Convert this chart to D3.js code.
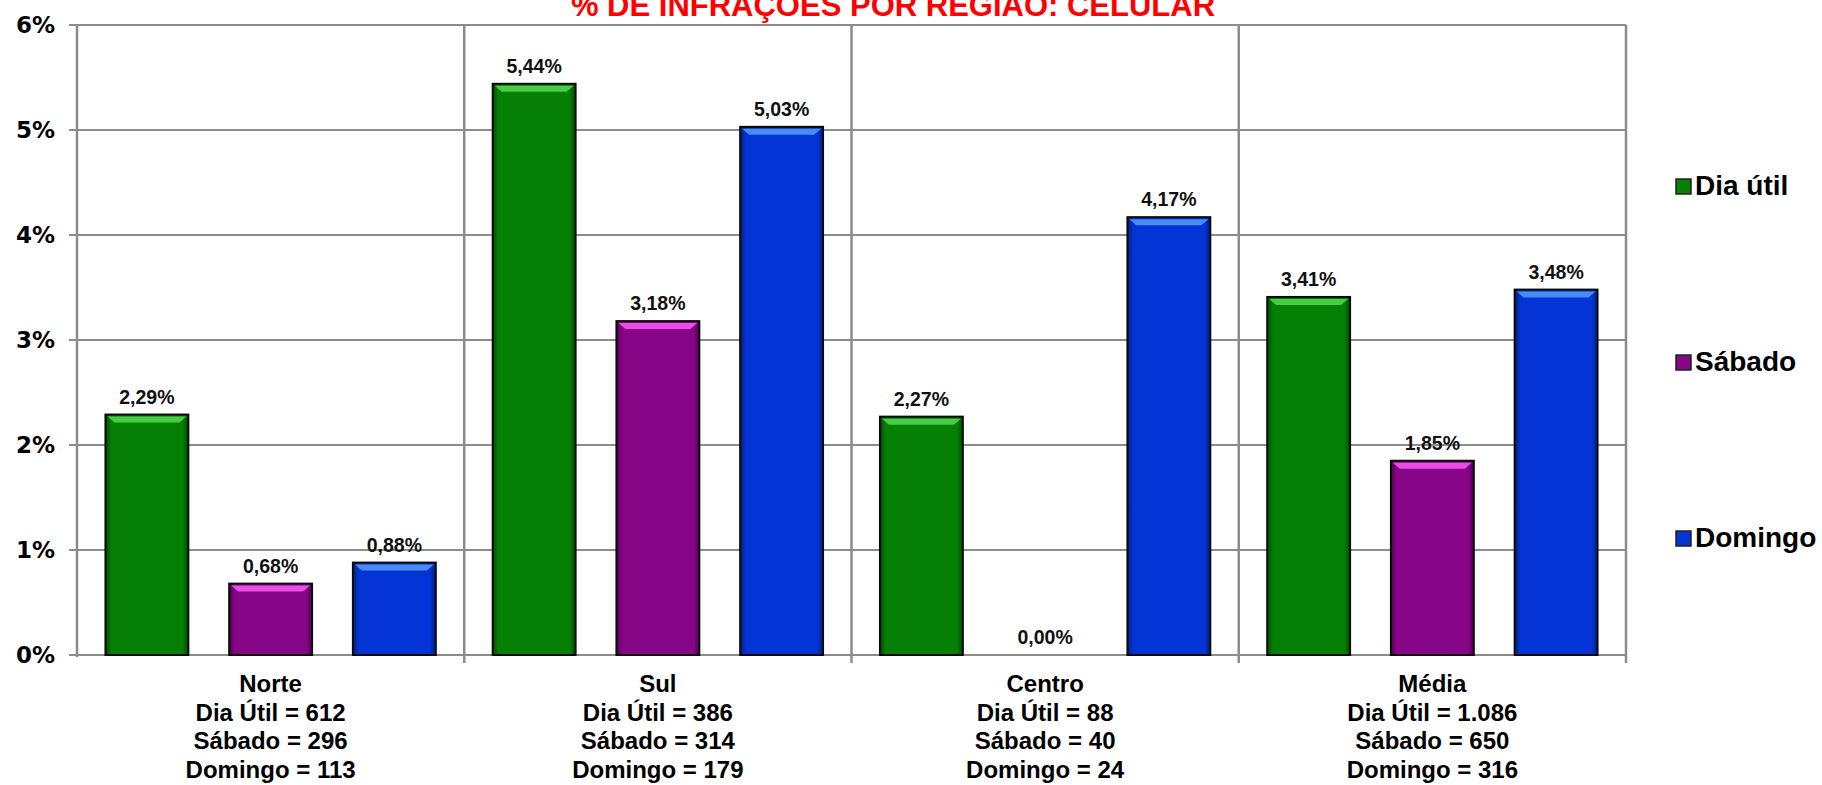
<!DOCTYPE html>
<html lang="pt">

<head>
    <meta charset="UTF-8">
    <script src="https://cdnjs.cloudflare.com/ajax/libs/d3/7.9.0/d3.min.js"></script>
    <title>% de infrações por região: celular</title>
    <style>
        body {
            margin: 0;
            background-color: white;
            font-family: "Liberation Sans", Arial, sans-serif;
        }

        svg {
            display: block;
        }

        .grid line {
            stroke: #8c8c8c;
            stroke-width: 2;
        }

        .y-axis text {
            font-family: "DejaVu Sans", Verdana, sans-serif;
            font-weight: bold;
            font-size: 23px;
            fill: #000;
        }

        .value-label {
            font-weight: bold;
            font-size: 19.5px;
            fill: #111;
        }

        .cat-label {
            font-weight: bold;
            font-size: 24px;
            fill: #000;
        }

        .legend text {
            font-weight: bold;
            font-size: 28px;
            fill: #000;
        }
    </style>
</head>

<body>
    <div id="chart"></div>

    <script>
        const width = 1822;
        const height = 785;
        const plot = { left: 77, right: 1626, top: 25, bottom: 655 };

        // data
        const regions = ["Norte", "Sul", "Centro", "Média"];
        const seriesNames = ["Dia útil", "Sábado", "Domingo"];
        const diaUtil = [2.29, 5.44, 2.27, 3.41];
        const sabado = [0.68, 3.18, 0.00, 1.85];
        const domingo = [0.88, 5.03, 4.17, 3.48];
        const countDiaUtil = ["612", "386", "88", "1.086"];
        const countSabado = ["296", "314", "40", "650"];
        const countDomingo = ["113", "179", "24", "316"];
        const yTicks = [0, 1, 2, 3, 4, 5, 6];

        const colors = {
            "Dia útil": { base: "#058005", light: "#46cc46", dark: "#024a02" },
            "Sábado": { base: "#870587", light: "#e64ee6", dark: "#4f024f" },
            "Domingo": { base: "#0534d6", light: "#4a8df2", dark: "#021d7a" }
        };

        const values = [diaUtil, sabado, domingo];
        const rows = [];
        regions.forEach((r, i) => {
            seriesNames.forEach((s, j) => {
                rows.push({ region: r, series: s, value: values[j][i] });
            });
        });

        const svg = d3.select("#chart").append("svg")
            .attr("width", width)
            .attr("height", height);

        // gradients for the bevelled look
        const defs = svg.append("defs");
        seriesNames.forEach((s, i) => {
            const g = defs.append("linearGradient")
                .attr("id", "grad" + i)
                .attr("x1", "0%").attr("x2", "100%")
                .attr("y1", "0%").attr("y2", "0%");
            g.append("stop").attr("offset", "0%").attr("stop-color", colors[s].dark);
            g.append("stop").attr("offset", "7%").attr("stop-color", colors[s].base);
            g.append("stop").attr("offset", "93%").attr("stop-color", colors[s].base);
            g.append("stop").attr("offset", "100%").attr("stop-color", colors[s].dark);
        });

        const x0 = d3.scaleBand()
            .domain(regions)
            .range([plot.left, plot.right]);

        const x1 = d3.scaleBand()
            .domain(seriesNames)
            .range([0, x0.bandwidth()])
            .paddingInner(0.33)
            .paddingOuter(0.23);

        const y = d3.scaleLinear()
            .domain([0, 6])
            .range([plot.bottom, plot.top]);

        // title (cut off at the top like the original)
        svg.append("text")
            .attr("x", 893)
            .attr("y", 16)
            .attr("text-anchor", "middle")
            .style("font-weight", "bold")
            .style("font-size", "31px")
            .style("fill", "#ff0000")
            .text("% DE INFRAÇÕES POR REGIÃO: CELULAR");

        // horizontal gridlines
        svg.append("g")
            .attr("class", "grid")
            .selectAll("line")
            .data(yTicks)
            .enter()
            .append("line")
            .attr("x1", plot.left - 8)
            .attr("x2", plot.right)
            .attr("y1", d => y(d))
            .attr("y2", d => y(d));

        // vertical dividers between regions
        const dividers = regions.map(r => x0(r)).concat([plot.right]);
        svg.append("g")
            .attr("class", "grid")
            .selectAll("line")
            .data(dividers)
            .enter()
            .append("line")
            .attr("x1", d => d)
            .attr("x2", d => d)
            .attr("y1", y(6))
            .attr("y2", (d, i) => i === 0 ? y(0) + 2 : y(0) + 8)
            .style("stroke-width", 2.5);

        // y axis labels
        const yAxis = d3.axisLeft(y)
            .tickValues(yTicks)
            .tickSize(0)
            .tickPadding(22)
            .tickFormat(d => d + "%");

        svg.append("g")
            .attr("class", "y-axis")
            .attr("transform", `translate(${plot.left},0)`)
            .call(yAxis)
            .call(g => g.select(".domain").remove());

        // bars
        const bars = svg.append("g")
            .selectAll("g")
            .data(rows.filter(d => d.value > 0))
            .enter()
            .append("g");

        bars.append("rect")
            .attr("x", d => x0(d.region) + x1(d.series))
            .attr("y", d => y(d.value))
            .attr("width", x1.bandwidth())
            .attr("height", d => y(0) - y(d.value))
            .attr("fill", d => "url(#grad" + seriesNames.indexOf(d.series) + ")")
            .attr("stroke", "#0a0a0a")
            .attr("stroke-width", 2);

        // top highlight bevel
        bars.append("polygon")
            .attr("points", d => {
                const xl = x0(d.region) + x1(d.series);
                const xr = xl + x1.bandwidth();
                const yt = y(d.value);
                return [[xl + 2, yt + 2], [xr - 2, yt + 2], [xr - 9, yt + 8], [xl + 9, yt + 8]]
                    .map(p => p.join(",")).join(" ");
            })
            .attr("fill", d => colors[d.series].light);

        // value labels
        svg.append("g")
            .selectAll("text")
            .data(rows)
            .enter()
            .append("text")
            .attr("class", "value-label")
            .attr("x", d => x0(d.region) + x1(d.series) + x1.bandwidth() / 2)
            .attr("y", d => y(d.value) - 11)
            .attr("text-anchor", "middle")
            .text(d => d.value.toFixed(2).replace(".", ",") + "%");

        // category labels with counts
        const cats = svg.append("g")
            .selectAll("text")
            .data(regions)
            .enter()
            .append("text")
            .attr("class", "cat-label")
            .attr("text-anchor", "middle")
            .attr("x", d => x0(d) + x0.bandwidth() / 2)
            .attr("y", 692);

        cats.each(function (d, i) {
            const t = d3.select(this);
            const lines = [
                d,
                "Dia Útil = " + countDiaUtil[i],
                "Sábado = " + countSabado[i],
                "Domingo = " + countDomingo[i]
            ];
            lines.forEach((l, k) => {
                t.append("tspan")
                    .attr("x", x0(d) + x0.bandwidth() / 2)
                    .attr("dy", k === 0 ? 0 : 28.7)
                    .text(l);
            });
        });

        // legend
        const legendY = d3.scalePoint()
            .domain(seriesNames)
            .range([195, 547]);

        const legend = svg.append("g")
            .attr("class", "legend")
            .selectAll("g")
            .data(seriesNames)
            .enter()
            .append("g")
            .attr("transform", d => `translate(1676,${legendY(d)})`);

        legend.append("rect")
            .attr("x", 0)
            .attr("y", -16)
            .attr("width", 15)
            .attr("height", 15)
            .attr("fill", (d, i) => "url(#grad" + i + ")")
            .attr("stroke", "#222")
            .attr("stroke-width", 1.5);

        legend.append("text")
            .attr("x", 19)
            .attr("y", 0)
            .text(d => d);
    </script>
</body>

</html>
